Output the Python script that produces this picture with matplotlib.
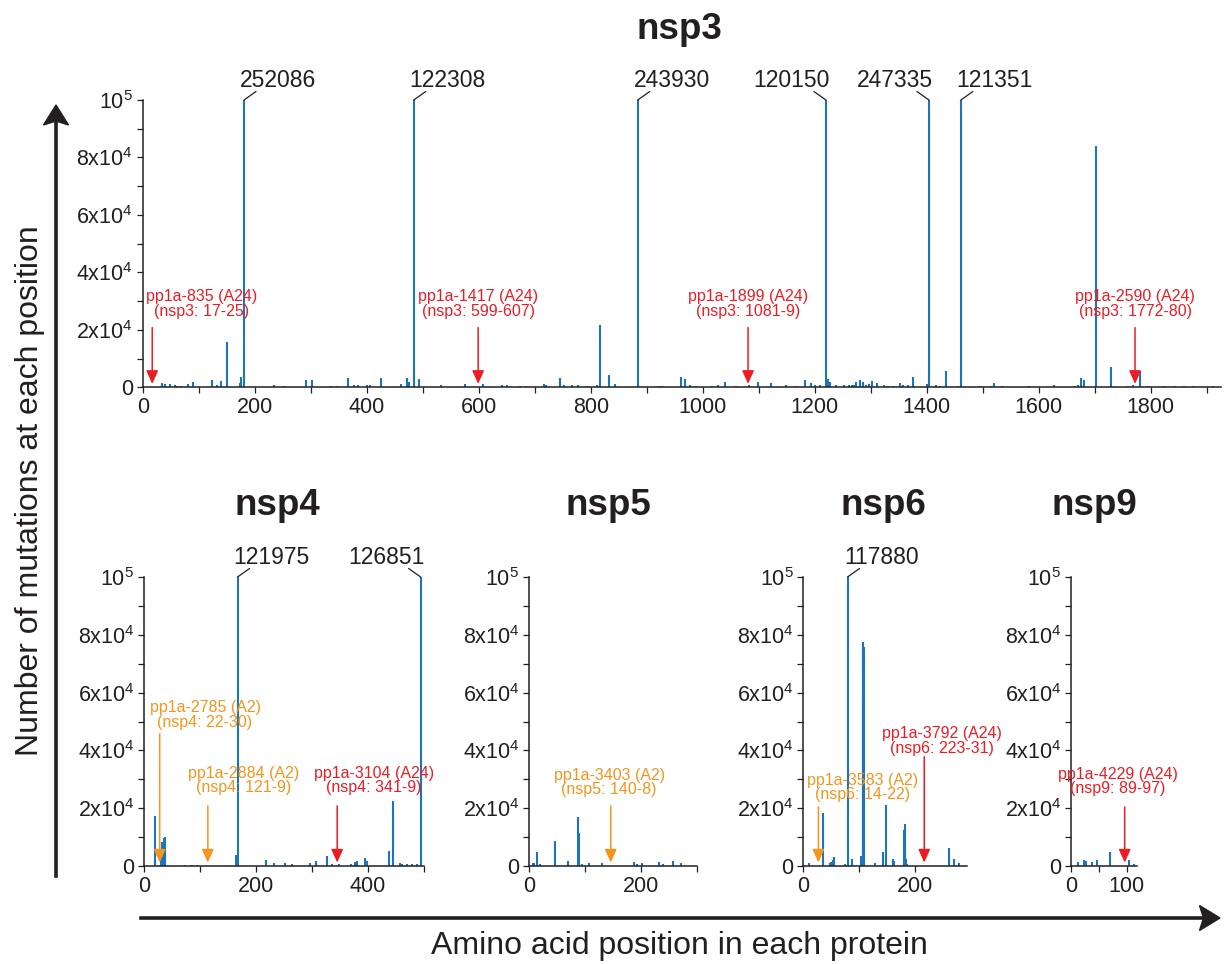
import matplotlib
matplotlib.use("Agg")
import matplotlib.pyplot as plt
import numpy as np
from matplotlib.patches import Polygon
from matplotlib.lines import Line2D
from matplotlib.ticker import MultipleLocator, FixedLocator

plt.rcParams['font.family'] = ['Liberation Sans', 'DejaVu Sans']
plt.rcParams['mathtext.fontset'] = 'custom'
plt.rcParams['mathtext.rm'] = 'Liberation Sans'

# ---------------- data ----------------
nsp3_pos = [34, 40, 48, 57, 61, 69, 80, 89, 124, 132, 139, 151, 174, 176, 181, 234, 253, 292, 303,
            337, 347, 367, 378, 384, 400, 406, 425, 462, 472, 476, 484, 493, 532, 575, 607, 641, 650,
            674, 685, 716, 720, 745, 752, 767, 777, 793, 811, 817, 832, 844, 884, 922, 928,
            961, 969, 978, 988, 1017, 1027, 1039, 1060, 1083, 1098, 1122, 1149, 1166, 1182, 1193,
            1200, 1209, 1220, 1223, 1228, 1238, 1253, 1261, 1266, 1270, 1274, 1281, 1287, 1292,
            1297, 1302, 1312, 1324, 1330, 1340, 1353, 1357, 1366, 1376, 1378, 1400, 1404, 1416,
            1423, 1435, 1456, 1461, 1495, 1515, 1521, 1534, 1583, 1627, 1664, 1670, 1675, 1681,
            1703, 1729, 1760, 1768, 1781, 1795, 1823, 1843, 1859, 1875, 1911]
nsp3_cnt = [1400, 1000, 1100, 700, 500, 500, 1100, 1700, 2500, 700, 2200, 15800, 1600, 3700, 252086,
            800, 500, 2500, 2500, 500, 600, 3200, 800, 900, 700, 900, 3100, 1100, 3200, 2000,
            122308, 2800, 700, 1000, 1000, 700, 700, 500, 600, 1100, 800, 3100, 700, 700, 700,
            500, 800, 21600, 4300, 1100, 243930, 500, 500,
            3700, 2800, 700, 500, 500, 700, 1700, 500, 700, 1700, 1400, 900, 600, 2500, 1400,
            700, 700, 120150, 2800, 1700, 900, 700, 800, 900, 700, 1700, 2500, 1800, 900,
            1200, 2100, 1400, 700, 500, 500, 1600, 700, 900, 3600, 600, 1200, 247335, 800,
            600, 5600, 500, 121351, 500, 600, 1400, 600, 500, 900, 500, 700, 3300, 2500,
            83900, 7000, 600, 700, 5600, 500, 500, 500, 500, 600, 500]

nsp4_pos = [19, 31, 33, 35, 37, 74, 86, 95, 164, 167, 217, 232, 251, 265, 296, 308, 326, 336,
            348, 369, 376, 381, 394, 399, 438, 445, 457, 461, 470, 479, 488, 494]
nsp4_cnt = [17200, 3700, 8400, 9600, 10200, 500, 500, 500, 3700, 121975, 2200, 1000, 1000, 700,
            1000, 1600, 3500, 700, 700, 700, 1400, 1600, 2800, 1600, 5100, 22400, 900, 800,
            600, 600, 600, 126851]

nsp5_pos = [7, 9, 15, 20, 47, 69, 87, 89, 94, 107, 130, 188, 193, 202, 233, 239, 257, 271]
nsp5_cnt = [1200, 1200, 4900, 800, 8500, 1800, 16900, 11400, 800, 900, 900, 1400, 800, 900,
            1400, 800, 1900, 900]

nsp6_pos = [11, 36, 47, 50, 53, 55, 75, 79, 87, 103, 106, 107, 108, 128, 142, 148, 160, 162,
            179, 181, 183, 185, 260, 270, 278]
nsp6_cnt = [1000, 18400, 1000, 1400, 2000, 3100, 800, 117880, 2300, 3500, 58500, 77500, 75700,
            1000, 4800, 21000, 2300, 1700, 12300, 14400, 2500, 800, 6200, 2300, 1000]

nsp9_pos = [13, 24, 27, 38, 46, 69, 104, 112]
nsp9_cnt = [1400, 2000, 1600, 1400, 2100, 4800, 2000, 700]

# epitopes: (protein, label, range text, HLA, arrow position)
ep_protein = ['nsp3', 'nsp3', 'nsp3', 'nsp3', 'nsp4', 'nsp4', 'nsp4', 'nsp5', 'nsp6', 'nsp6', 'nsp9']
ep_name = ['pp1a-835 (A24)', 'pp1a-1417 (A24)', 'pp1a-1899 (A24)', 'pp1a-2590 (A24)',
           'pp1a-2785 (A2)', 'pp1a-2884 (A2)', 'pp1a-3104 (A24)', 'pp1a-3403 (A2)',
           'pp1a-3583 (A2)', 'pp1a-3792 (A24)', 'pp1a-4229 (A24)']
ep_range = ['(nsp3: 17-25)', '(nsp3: 599-607)', '(nsp3: 1081-9)', '(nsp3: 1772-80)',
            '(nsp4: 22-30)', '(nsp4: 121-9)', '(nsp4: 341-9)', '(nsp5: 140-8)',
            '(nsp6: 14-22)', '(nsp6: 223-31)', '(nsp9: 89-97)']
ep_hla = ['A24', 'A24', 'A24', 'A24', 'A2', 'A2', 'A24', 'A2', 'A2', 'A24', 'A24']
ep_pos = [17, 599, 1081, 1772, 28, 114, 345, 146, 27, 216, 96]

# layout of epitope labels (text x in data, text y, arrow top) -- style only
ep_text_x = [105, 599, 1081, 1772, 109, 178, 410, 143, 105, 248, 84]
ep_text_y = [28950, 28950, 28950, 28950, 52250, 29600, 29600, 28900, 27200, 43300, 29200]
ep_arrow_top = [20770, 20770, 20770, 20770, 45700, 20800, 20800, 20800, 20500, 37800, 20400]

# ---------------- style ----------------
W, H = 1229, 964
BLUE = '#1C75BC'
RED = '#ED1C24'
ORANGE = '#F7941D'
DARK = '#231F20'
hla_color = {'A2': ORANGE, 'A24': RED}
YMAX = 1e5

fig = plt.figure(figsize=(W / 100, H / 100), dpi=100)


def add_ax(l, r, t, b):
    return fig.add_axes([l / W, 1 - b / H, (r - l) / W, (b - t) / H])


panels = {
    'nsp3': dict(box=(142.7, 1220.7, 100, 387.3), xlim=1925, major=200, minor=100,
                 pos=nsp3_pos, cnt=nsp3_cnt, title_xy=(679, 39)),
    'nsp4': dict(box=(144, 424, 577, 866), xlim=500, major=200, minor=100,
                 pos=nsp4_pos, cnt=nsp4_cnt, title_xy=(277, 515)),
    'nsp5': dict(box=(529, 697, 577, 866), xlim=300, major=200, minor=100,
                 pos=nsp5_pos, cnt=nsp5_cnt, title_xy=(608, 515)),
    'nsp6': dict(box=(803.3, 966.8, 577, 866), xlim=292, major=200, minor=100,
                 pos=nsp6_pos, cnt=nsp6_cnt, title_xy=(883, 515)),
    'nsp9': dict(box=(1071, 1137, 577, 866), xlim=118, major=100, minor=50,
                 pos=nsp9_pos, cnt=nsp9_cnt, title_xy=(1094, 515)),
}

# peak label offsets (pixels): text dx, leader dx
peak_side = {252086: 1, 122308: 1, 243930: 1, 120150: -1, 247335: -1, 121351: 1,
             121975: 1, 126851: -1, 117880: 1}

ytick_vals = [0, 2e4, 4e4, 6e4, 8e4, 1e5]
ytick_labels = ['0', r'$\mathregular{2x10^4}$', r'$\mathregular{4x10^4}$',
                r'$\mathregular{6x10^4}$', r'$\mathregular{8x10^4}$', r'$\mathregular{10^5}$']

axes = {}
for name, p in panels.items():
    ax = add_ax(*p['box'])
    axes[name] = ax
    pos = np.array(p['pos'])
    cnt = np.array(p['cnt'], dtype=float)
    ax.vlines(pos, 0, np.minimum(cnt, YMAX), color=BLUE, lw=1.5, zorder=2)
    ax.set_xlim(0, p['xlim'])
    ax.set_ylim(0, YMAX)
    for s in ['top', 'right']:
        ax.spines[s].set_visible(False)
    for s in ['left', 'bottom']:
        ax.spines[s].set_linewidth(1.1)
        ax.spines[s].set_color(DARK)
        ax.spines[s].set_zorder(3)
    ax.xaxis.set_major_locator(MultipleLocator(p['major']))
    ax.xaxis.set_minor_locator(MultipleLocator(p['minor']))
    ax.yaxis.set_major_locator(FixedLocator(ytick_vals))
    ax.yaxis.set_minor_locator(MultipleLocator(1e4))
    ax.set_yticklabels(ytick_labels)
    ax.tick_params(which='both', direction='out', length=4, width=0.9, color=DARK,
                   labelsize=15.5, labelcolor=DARK, pad=3)
    ax.patch.set_alpha(0)
    fig.text(p['title_xy'][0] / W, 1 - p['title_xy'][1] / H, name, ha='center',
             va='baseline', fontsize=26.5, fontweight='bold', color=DARK)
    # labels for clipped peaks
    for x, c in zip(pos, cnt):
        if c > YMAX:
            side = peak_side.get(int(c), 1)
            ax.annotate('', xy=(x, YMAX), xytext=(side * 12, 8.5), textcoords='offset pixels',
                        arrowprops=dict(arrowstyle='-', lw=0.9, color=DARK, shrinkA=0, shrinkB=0),
                        annotation_clip=False)
            ax.annotate(f'{int(c)}', xy=(x, YMAX), xytext=(side * 34, 13),
                        textcoords='offset pixels', ha='center', va='baseline',
                        fontsize=16.5, color=DARK, annotation_clip=False)

# epitope markers
for prot, nm, rg, hla, xp, tx, ty, at in zip(ep_protein, ep_name, ep_range, ep_hla, ep_pos,
                                              ep_text_x, ep_text_y, ep_arrow_top):
    ax = axes[prot]
    col = hla_color[hla]
    ax.annotate('', xy=(xp, 1200), xytext=(xp, at),
                arrowprops=dict(arrowstyle='-|>,head_length=0.8,head_width=0.36',
                                mutation_scale=10, lw=1.1, color=col, shrinkA=0, shrinkB=0),
                annotation_clip=False, zorder=4)
    ax.text(tx, ty, nm + '\n' + rg, ha='center', va='center', color=col, fontsize=11.5,
            linespacing=0.98, zorder=4, clip_on=False)

# big axis arrows (figure pixel coordinates)
def fx(x):
    return x / W


def fy(y):
    return 1 - y / H


fig.add_artist(Line2D([fx(56), fx(56)], [fy(876), fy(122)], lw=2.6, color=DARK))
fig.add_artist(Polygon([(fx(56), fy(105)), (fx(43.5), fy(125)), (fx(56), fy(121)),
                        (fx(68.5), fy(125))], closed=True, color=DARK))
fig.add_artist(Line2D([fx(141), fx(1203)], [fy(918), fy(918)], lw=2.6, color=DARK))
fig.add_artist(Polygon([(fx(1220), fy(918)), (fx(1199.5), fy(905.5)), (fx(1203.5), fy(918)),
                        (fx(1199.5), fy(930.5))], closed=True, color=DARK))

fig.text(fx(30), fy(491), 'Number of mutations at each position', rotation=90,
         ha='center', va='center', fontsize=23, color=DARK)
fig.text(fx(679), fy(946), 'Amino acid position in each protein',
         ha='center', va='center', fontsize=23, color=DARK)

fig.savefig('out.png', dpi=100)
